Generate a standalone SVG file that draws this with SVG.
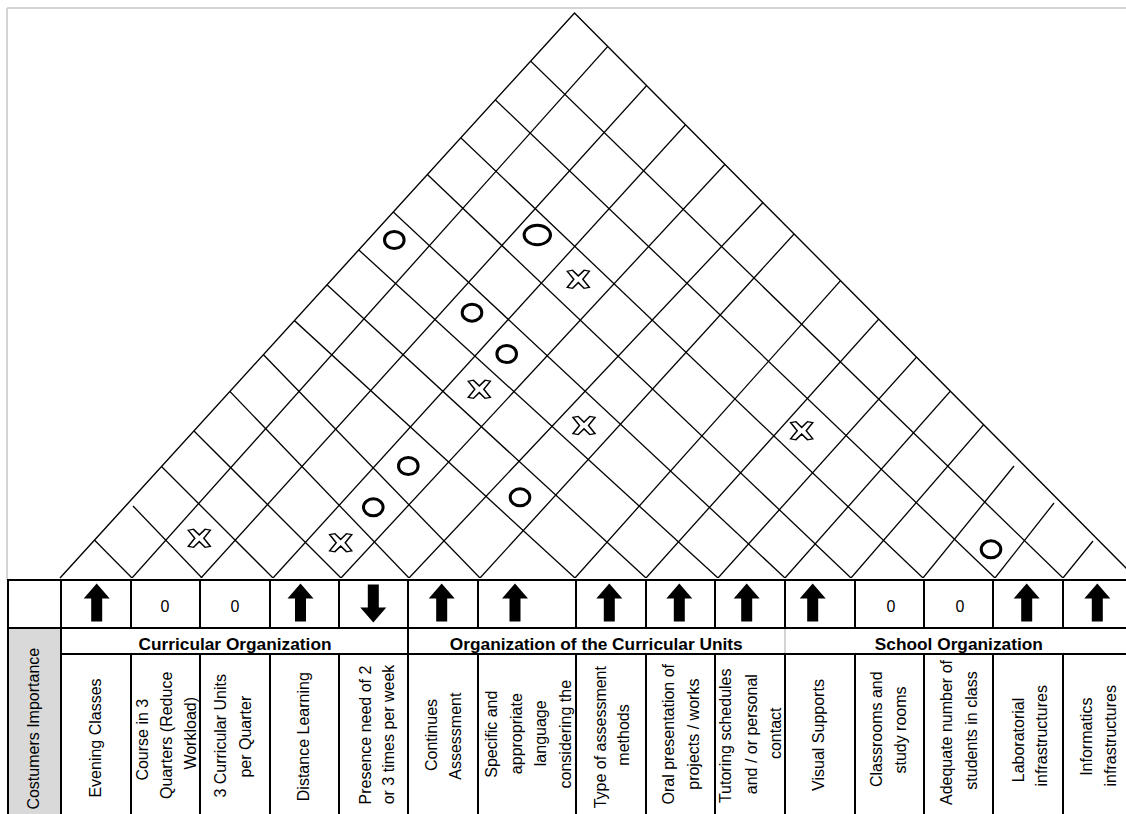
<svg xmlns="http://www.w3.org/2000/svg" xmlns:xlink="http://www.w3.org/1999/xlink" width="1126" height="814" viewBox="0 0 1126 814">
<style>
.g{stroke:#000;stroke-width:1.3;fill:none}
.e{stroke:#000;stroke-width:1.4;fill:none}
.t{stroke:#000;stroke-width:2;fill:none}
.lg{stroke:#d4d4d4;stroke-width:2;fill:none}
.l{font-family:"Liberation Sans",Arial,sans-serif;font-size:16px;fill:#000;text-anchor:middle}
.h{font-family:"Liberation Sans",Arial,sans-serif;font-size:17.3px;font-weight:bold;fill:#000;text-anchor:middle}
.z{font-family:"Liberation Sans",Arial,sans-serif;font-size:16px;fill:#000;text-anchor:middle}
.o{fill:none;stroke:#000;stroke-width:3}
.x{fill:#fff;stroke:#000;stroke-width:1.3}
</style>
<defs>
<clipPath id="roofclip"><polygon points="60,578 574.5,13 1136,578"/></clipPath>
<path id="up" d="M0,-19 L13,-4 L5.5,-4 L5.5,19 L-5.5,19 L-5.5,-4 L-13,-4 Z" fill="#000"/>
<path id="cross" d="M-8.5,-8.5 L-4.5,-9.5 L0,-3.5 L4.5,-9.5 L8.5,-8.5 L3.5,0 L8.5,8.5 L4.5,9.5 L0,3.5 L-4.5,9.5 L-8.5,8.5 L-3.5,0 Z"/>
</defs>
<rect x="0" y="0" width="1126" height="814" fill="#fff"/>
<g id="page-frame">
<line class="lg" x1="7" y1="8" x2="1126" y2="8"/>
<line class="lg" x1="7" y1="8" x2="7" y2="580"/>
</g>
<g id="connectors">
<g id="roof-edges">
<polyline class="e" points="60,578 574.5,13 1136,578"/>
</g>
<g id="roof-grid" clip-path="url(#roofclip)">
<line class="g" x1="132" y1="578" x2="649.3" y2="0"/>
<line class="g" x1="201" y1="578" x2="724.1" y2="0"/>
<line class="g" x1="273" y1="578" x2="799" y2="0"/>
<line class="g" x1="341" y1="578" x2="877.4" y2="0"/>
<line class="g" x1="409" y1="578" x2="954" y2="0"/>
<line class="g" x1="480" y1="578" x2="1007.7" y2="0"/>
<line class="g" x1="575" y1="578" x2="1091.2" y2="0"/>
<line class="g" x1="646" y1="578" x2="1165.6" y2="0"/>
<line class="g" x1="718" y1="578" x2="1237.6" y2="0"/>
<line class="g" x1="785" y1="578" x2="1296.5" y2="0"/>
<line class="g" x1="851" y1="578" x2="1351" y2="0"/>
<line class="g" x1="923" y1="578" x2="1014" y2="466"/>
<line class="g" x1="995" y1="578" x2="1054" y2="503"/>
<line class="g" x1="1063" y1="578" x2="1093" y2="541"/>
<line class="g" x1="132" y1="578" x2="-440" y2="0"/>
<line class="g" x1="202" y1="578" x2="133" y2="506"/>
<line class="g" x1="273" y1="578" x2="-305" y2="0"/>
<line class="g" x1="341" y1="578" x2="-237" y2="0"/>
<line class="g" x1="409" y1="578" x2="-145.9" y2="0"/>
<line class="g" x1="480" y1="578" x2="-80.7" y2="0"/>
<line class="g" x1="575" y1="578" x2="-55" y2="0"/>
<line class="g" x1="646" y1="578" x2="17.1" y2="0"/>
<line class="g" x1="718" y1="578" x2="85.1" y2="0"/>
<line class="g" x1="785" y1="578" x2="166.5" y2="0"/>
<line class="g" x1="851" y1="578" x2="244.1" y2="0"/>
<line class="g" x1="923" y1="578" x2="316.1" y2="0"/>
<line class="g" x1="995" y1="578" x2="391" y2="0"/>
<line class="g" x1="1063" y1="578" x2="467.7" y2="0"/>
</g>
</g>
<g id="correlations">
<ellipse class="o" cx="394.3" cy="240" rx="9.8" ry="8.5"/>
<ellipse class="o" cx="537.3" cy="235" rx="13.2" ry="9.7"/>
<ellipse class="o" cx="472" cy="312.7" rx="9.8" ry="8.5"/>
<ellipse class="o" cx="506.7" cy="354" rx="9.8" ry="8.5"/>
<ellipse class="o" cx="408.3" cy="466" rx="9.8" ry="8.5"/>
<ellipse class="o" cx="373.3" cy="507.3" rx="9.8" ry="8.5"/>
<ellipse class="o" cx="520" cy="497.3" rx="9.8" ry="8.5"/>
<ellipse class="o" cx="991" cy="549.3" rx="9.8" ry="8.5"/>
<use xlink:href="#cross" href="#cross" class="x" transform="translate(578.3,279.3) scale(1.3,0.95)"/>
<use xlink:href="#cross" href="#cross" class="x" transform="translate(479.3,389.3) scale(1.3,0.95)"/>
<use xlink:href="#cross" href="#cross" class="x" transform="translate(584,425.5) scale(1.3,0.95)"/>
<use xlink:href="#cross" href="#cross" class="x" transform="translate(801.7,430.7) scale(1.3,0.95)"/>
<use xlink:href="#cross" href="#cross" class="x" transform="translate(199.3,538.3) scale(1.3,0.95)"/>
<use xlink:href="#cross" href="#cross" class="x" transform="translate(340.7,542.7) scale(1.3,0.95)"/>
</g>
<g id="table">
<rect x="8" y="628" width="53" height="190" fill="#d9d9d9"/>
<line class="t" x1="7" y1="580" x2="1126" y2="580"/>
<line class="t" x1="7" y1="628" x2="1126" y2="628"/>
<line class="t" x1="61" y1="654" x2="1126" y2="654"/>
<line class="t" x1="8" y1="579" x2="8" y2="814"/>
<line class="t" x1="61" y1="579" x2="61" y2="814"/>
<line class="t" x1="408" y1="579" x2="408" y2="814"/>
<g id="col-dividers">
<path class="t" d="M131,579V628M131,654V814M200,579V628M200,654V814M270,579V628M270,654V814M339,579V628M339,654V814M478,579V628M478,654V814M576,579V628M576,654V814M646,579V628M646,654V814M715,579V628M715,654V814M785,579V628M785,654V814M855,579V628M855,654V814M924,579V628M924,654V814M993,579V628M993,654V814M1063,579V628M1063,654V814"/>
<line x1="785" y1="629" x2="785" y2="653" stroke="#d4d4d4" stroke-width="2"/>
</g>
</g>
<g id="directions">
<use xlink:href="#up" href="#up" x="96.7" y="602.5"/>
<text class="z" x="165" y="612">0</text>
<text class="z" x="235" y="612">0</text>
<use xlink:href="#up" href="#up" x="300.5" y="602.5"/>
<use xlink:href="#up" href="#up" transform="translate(373.3,603.5) rotate(180)"/>
<use xlink:href="#up" href="#up" x="441.7" y="602.5"/>
<use xlink:href="#up" href="#up" x="515" y="602.5"/>
<use xlink:href="#up" href="#up" x="609.3" y="602.5"/>
<use xlink:href="#up" href="#up" x="679.3" y="602.5"/>
<use xlink:href="#up" href="#up" x="746.7" y="602.5"/>
<use xlink:href="#up" href="#up" x="812.7" y="602.5"/>
<text class="z" x="891" y="612">0</text>
<text class="z" x="960" y="612">0</text>
<use xlink:href="#up" href="#up" x="1026.7" y="602.5"/>
<use xlink:href="#up" href="#up" x="1097.3" y="602.5"/>
</g>
<g id="categories">
<text class="h" x="235" y="650">Curricular Organization</text>
<text class="h" x="596.3" y="650">Organization of the Curricular Units</text>
<text class="h" x="958.8" y="650">School Organization</text>
</g>
<g id="importance"><text class="l" transform="translate(38.8,728.7) rotate(-90)">Costumers Importance</text></g>
<g id="col-evening"><text class="l" transform="translate(100.5,738) rotate(-90)">Evening Classes</text></g>
<g id="col-course">
<text class="l" transform="translate(148.2,739.7) rotate(-90)">Course in 3</text>
<text class="l" transform="translate(172.2,735.3) rotate(-90)">Quarters (Reduce</text>
<text class="l" transform="translate(195.5,733.3) rotate(-90)">Workload)</text>
</g>
<g id="col-units">
<text class="l" transform="translate(225.5,735.8) rotate(-90)">3 Curricular Units</text>
<text class="l" transform="translate(250.5,736.7) rotate(-90)">per Quarter</text>
</g>
<g id="col-distance"><text class="l" transform="translate(308.8,736.7) rotate(-90)">Distance Learning</text></g>
<g id="col-presence">
<text class="l" transform="translate(370.5,735) rotate(-90)">Presence need of 2</text>
<text class="l" transform="translate(393.8,734.5) rotate(-90)">or 3 times per week</text>
</g>
<g id="col-continues">
<text class="l" transform="translate(437.2,735) rotate(-90)">Continues</text>
<text class="l" transform="translate(460.5,736.2) rotate(-90)">Assessment</text>
</g>
<g id="col-language">
<text class="l" transform="translate(497.2,734.2) rotate(-90)">Specific and</text>
<text class="l" transform="translate(522.2,733.7) rotate(-90)">appropriate</text>
<text class="l" transform="translate(545.5,733.3) rotate(-90)">language</text>
<text class="l" transform="translate(570.5,734.2) rotate(-90)">considering the</text>
</g>
<g id="col-type">
<text class="l" transform="translate(605.5,737.2) rotate(-90)">Type of assessment</text>
<text class="l" transform="translate(628.8,735) rotate(-90)">methods</text>
</g>
<g id="col-oral">
<text class="l" transform="translate(673.8,734.2) rotate(-90)">Oral presentation of</text>
<text class="l" transform="translate(698.8,734.2) rotate(-90)">projects / works</text>
</g>
<g id="col-tutoring">
<text class="l" transform="translate(730.5,735.8) rotate(-90)">Tutoring schedules</text>
<text class="l" transform="translate(757.2,734.2) rotate(-90)">and / or personal</text>
<text class="l" transform="translate(780.5,733.3) rotate(-90)">contact</text>
</g>
<g id="col-visual"><text class="l" transform="translate(823.8,735) rotate(-90)">Visual Supports</text></g>
<g id="col-classrooms">
<text class="l" transform="translate(882.2,729.2) rotate(-90)">Classrooms and</text>
<text class="l" transform="translate(905.5,730) rotate(-90)">study rooms</text>
</g>
<g id="col-adequate">
<text class="l" transform="translate(952.2,732.5) rotate(-90)">Adequate number of</text>
<text class="l" transform="translate(977.2,730.5) rotate(-90)">students in class</text>
</g>
<g id="col-lab">
<text class="l" transform="translate(1023.8,740) rotate(-90)">Laboratorial</text>
<text class="l" transform="translate(1047.2,735.8) rotate(-90)">infrastructures</text>
</g>
<g id="col-informatics">
<text class="l" transform="translate(1092.2,736.7) rotate(-90)">Informatics</text>
<text class="l" transform="translate(1115.5,735.8) rotate(-90)">infrastructures</text>
</g>
</svg>
